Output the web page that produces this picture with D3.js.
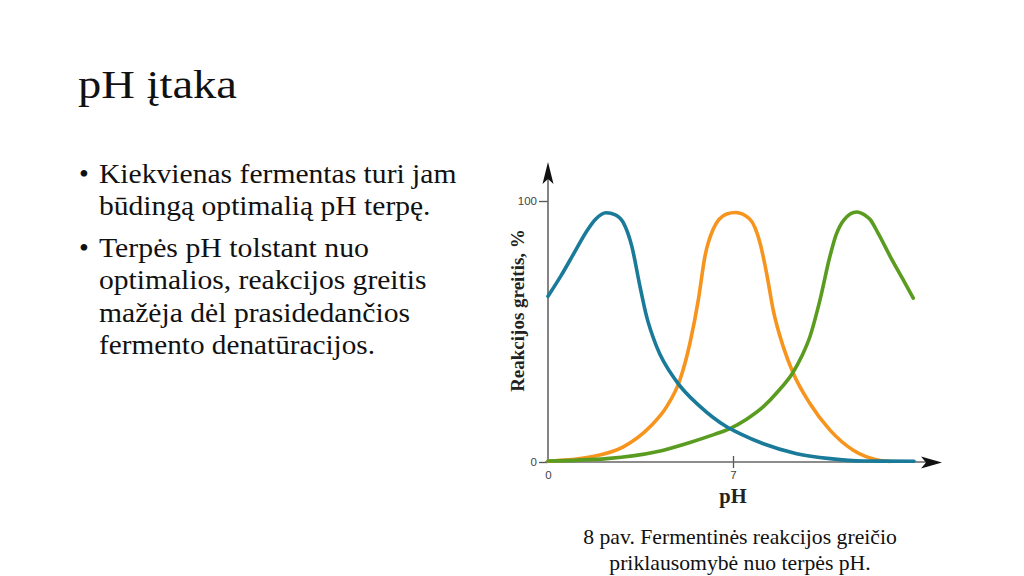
<!DOCTYPE html>
<html><head><meta charset="utf-8">
<script src="https://cdn.jsdelivr.net/npm/d3@7"></script>
<style>
html,body{margin:0;padding:0;background:#fff;}
svg{display:block;}
</style></head>
<body>
<svg id="c" width="1024" height="576"></svg>
<script>
// ---- data ----
const titleText = "pH įtaka";
const bulletLines = [
  ["Kiekvienas fermentas turi jam", "būdingą optimalią pH terpę."],
  ["Terpės pH tolstant nuo", "optimalios, reakcijos greitis", "mažėja dėl prasidedančios", "fermento denatūracijos."]
];
const captionLines = ["8 pav. Fermentinės reakcijos greičio", "priklausomybė nuo terpės pH."];
const xLabel = "pH";
const yLabel = "Reakcijos greitis, %";
const xTicks = [0, 7];
const yTicks = [0, 100];

const bluePH  = [0, 0.5, 1.0, 1.5, 1.8, 2.2, 2.55, 2.85, 3.17, 3.48, 3.73, 4.11, 4.87, 5.75, 6.76, 7.26, 8.15, 9.41, 10.67, 11.93, 13.85];
const blueVal = [63.5, 71.5, 80.3, 89, 93, 95.5, 94.7, 91.7, 82.7, 67.3, 55.8, 44.2, 30.8, 21.3, 13.5, 10.9, 7, 3.2, 1.3, 0.4, 0.3];

const orangePH  = [0, 1.59, 2.85, 3.86, 4.49, 4.99, 5.37, 5.69, 5.94, 6.25, 6.76, 7.1, 7.64, 8.02, 8.27, 8.52, 8.9, 9.28, 9.91, 10.67, 11.55, 12.56, 12.95];
const orangeVal = [0.3, 1.9, 5.8, 13.5, 21.2, 31.4, 45.5, 62.2, 78.9, 89.2, 95, 95.6, 93, 84, 72.4, 58.3, 44.2, 34, 22.4, 12.2, 4.5, 0.6, 0.2];

const greenPH  = [0, 2.22, 4.11, 5.37, 6.3, 6.9, 7.5, 8.15, 8.7, 9.28, 9.6, 9.91, 10.29, 10.67, 10.9, 11.2, 11.68, 12.0, 12.18, 12.5, 12.94, 13.4, 13.82];
const greenVal = [0.4, 1.3, 3.9, 7.5, 10.6, 12.9, 16.3, 21.2, 27, 34.5, 40.5, 48, 62, 78.9, 87, 92.8, 95.8, 94.5, 93, 87.5, 78.9, 70.5, 62.8];

const seriesColors = ["#f7941e", "#5a9c1f", "#1a7a99"];

// ---- drawing ----
const svg = d3.select("#c");
const serif = "Liberation Serif, Times New Roman, serif";
const sans = "Liberation Sans, Arial, sans-serif";

// Title
svg.append("text").attr("x", 78).attr("y", 98)
  .style("font-family", serif).attr("font-size", 39).attr("fill", "#111")
  .attr("textLength", 159).attr("lengthAdjust", "spacingAndGlyphs")
  .text(titleText);

// Bullets
const bodyWidths = [[357.5, 331.5], [270, 327.5, 311, 276]];
const bulletStarts = [182.7, 256.7];
const lineGap = 32.4;
bulletLines.forEach((lines, bi) => {
  const y0 = bulletStarts[bi];
  svg.append("text").attr("x", 79).attr("y", y0)
    .style("font-family", serif).attr("font-size", 28).attr("fill", "#111").text("•");
  lines.forEach((t, li) => {
    svg.append("text").attr("x", 99).attr("y", y0 + li * lineGap)
      .style("font-family", serif).attr("font-size", 28).attr("fill", "#111")
      .attr("textLength", bodyWidths[bi][li]).attr("lengthAdjust", "spacingAndGlyphs")
      .text(t);
  });
});

// Caption
captionLines.forEach((t, i) => {
  svg.append("text").attr("x", 740).attr("y", 544 + i * 25.5)
    .attr("text-anchor", "middle")
    .style("font-family", serif).attr("font-size", 21.7).attr("fill", "#111")
    .text(t);
});

// Chart
const x = d3.scaleLinear().domain([0, 14]).range([548, 918]);
const y = d3.scaleLinear().domain([0, 100]).range([462, 201]);

const g = svg.append("g");

// y axis ticks
const yAxis = d3.axisLeft(y).tickValues(yTicks).tickSize(9).tickPadding(2);
const ya = g.append("g").attr("transform", `translate(${x(0)},0)`).call(yAxis);
ya.select(".domain").remove();
ya.selectAll("line").attr("stroke", "#555").attr("stroke-width", 1.3);
ya.selectAll("text").style("font-family", sans).attr("font-size", 11.5).attr("fill", "#444");

// x axis ticks
const xAxis = d3.axisBottom(x).tickValues(xTicks).tickSize(6).tickPadding(3);
const xa = g.append("g").attr("transform", `translate(0,${y(0)})`).call(xAxis);
xa.select(".domain").remove();
xa.selectAll("line").attr("y1", -6).attr("stroke", "#555").attr("stroke-width", 1.3)
  .filter(d => d === 0).remove();
xa.selectAll("text").style("font-family", sans).attr("font-size", 11.5).attr("fill", "#444");

// axis lines
g.append("line").attr("x1", x(0)).attr("x2", x(0)).attr("y1", y(0) + 1).attr("y2", y(100) - 30)
  .attr("stroke", "#666").attr("stroke-width", 1.6);
g.append("line").attr("x1", x(0) - 3).attr("x2", x(14) + 10).attr("y1", y(0)).attr("y2", y(0))
  .attr("stroke", "#666").attr("stroke-width", 1.6);

// arrowheads
const ty = y(100) - 39, tx = x(0);
g.append("path").attr("d", `M${tx},${ty} L${tx + 5.5},${ty + 22} L${tx},${ty + 17} L${tx - 5.5},${ty + 22} Z`).attr("fill", "#111");
const ax = x(14) + 24, ay = y(0) + 0.5;
g.append("path").attr("d", `M${ax},${ay} L${ax - 21},${ay - 6} L${ax - 16},${ay} L${ax - 21},${ay + 6} Z`).attr("fill", "#111");

// curves
const line = d3.line().x(d => x(d[0])).y(d => y(d[1])).curve(d3.curveMonotoneX);
const series = [
  d3.zip(orangePH, orangeVal),
  d3.zip(greenPH, greenVal),
  d3.zip(bluePH, blueVal)
];
series.forEach((s, i) => {
  g.append("path").datum(s).attr("d", line)
    .attr("fill", "none").attr("stroke", seriesColors[i])
    .attr("stroke-width", 3.6).attr("stroke-linecap", "round").attr("stroke-linejoin", "round");
});

// axis labels
g.append("text").attr("x", x(7)).attr("y", 503)
  .attr("text-anchor", "middle").style("font-family", serif).attr("font-size", 20.5)
  .attr("font-weight", "bold").attr("fill", "#222").text(xLabel);
g.append("text").attr("transform", `translate(524,${(228 + 393) / 2}) rotate(-90)`)
  .attr("text-anchor", "middle").style("font-family", serif).attr("font-size", 19)
  .attr("font-weight", "bold").attr("fill", "#222").text(yLabel);
</script>
</body></html>
